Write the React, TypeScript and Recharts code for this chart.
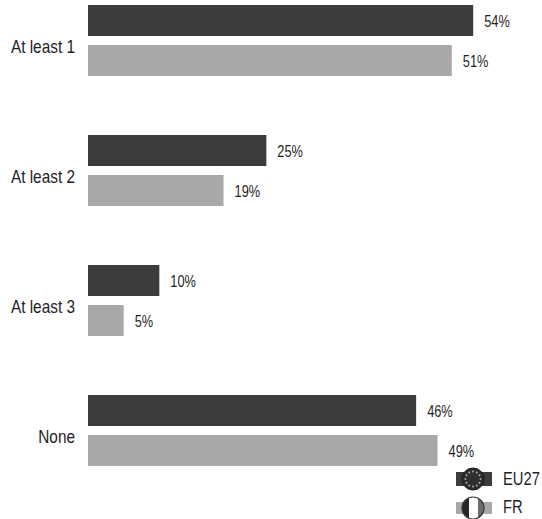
import React from 'react';
import { BarChart, XAxis, YAxis, Bar, LabelList, Legend } from 'recharts';

const categories = ['At least 1', 'At least 2', 'At least 3', 'None'];
const eu27Values = [54, 25, 10, 46];
const frValues = [51, 19, 5, 49];

const chartData = categories.map((name, i) => ({
  name,
  EU27: eu27Values[i],
  FR: frValues[i],
}));

// the reference uses a condensed Arial, no narrow font here so squeeze Liberation Sans
const FONT = '"Liberation Sans", Arial, sans-serif';
const STARS = [0, 1, 2, 3, 4, 5, 6, 7, 8, 9, 10, 11];

function CategoryTick({ x, y, payload }: any) {
  return (
    <g transform={`translate(${x},${y + 13}) scale(0.855,1)`}>
      <text textAnchor="end" fontFamily={FONT} fontSize={18} fill="#1f1f1f">
        {payload.value}
      </text>
    </g>
  );
}

function ValueLabel({ x, y, width, height, value }: any) {
  return (
    <g transform={`translate(${x + width + 11},${y + height / 2 + 6}) scale(0.8,1)`}>
      <text fontFamily={FONT} fontSize={16} fill="#1f1f1f">{`${value}%`}</text>
    </g>
  );
}

function Eu27Icon() {
  return (
    <svg width={38} height={26} style={{ display: 'block' }}>
      <rect x={1} y={5} width={36} height={14} fill="#3c3c3c" />
      <circle cx={18} cy={12} r={11} fill="#2e2e2e" stroke="#1a1a1a" />
      {STARS.map((s) => (
        <circle
          key={s}
          cx={18 + 7.5 * Math.cos((s * Math.PI) / 6)}
          cy={12 + 7.5 * Math.sin((s * Math.PI) / 6)}
          r={0.9}
          fill="#b5b5b5"
        />
      ))}
    </svg>
  );
}

function FrIcon() {
  return (
    <svg width={38} height={26} style={{ display: 'block' }}>
      <rect x={1} y={7} width={36} height={12} fill="#a8a8a8" />
      <circle cx={18} cy={13} r={11} fill="#fff" />
      <path d="M14 2.7 A11 11 0 0 0 14 23.3 Z" fill="#262626" />
      <path d="M23 3.2 A11 11 0 0 1 23 22.8 Z" fill="#6e6e6e" />
      <circle cx={18} cy={13} r={11} fill="none" stroke="#3a3a3a" strokeWidth={1.2} />
    </svg>
  );
}

function LegendContent() {
  const row = (label: string, top: number, icon: React.ReactNode) => (
    <div key={label} style={{ position: 'absolute', left: 455, top, width: 87, height: 26 }}>
      {icon}
      <span
        style={{
          position: 'absolute',
          left: 48,
          top: 1,
          fontFamily: FONT,
          fontSize: 18,
          lineHeight: '22px',
          color: '#1f1f1f',
          transform: 'scaleX(0.82)',
          transformOrigin: 'left center',
        }}
      >
        {label}
      </span>
    </div>
  );
  return (
    <div style={{ position: 'absolute', left: 0, top: 0 }}>
      {row('EU27', 467, <Eu27Icon />)}
      {row('FR', 495, <FrIcon />)}
    </div>
  );
}

export default function App() {
  return (
    <div style={{ position: 'absolute', left: 0, top: 0, width: 542, height: 519, overflow: 'hidden' }}>
      <BarChart
        width={542}
        height={519}
        data={chartData}
        layout="vertical"
        margin={{ top: -25, right: 26, bottom: 24, left: 0 }}
        barSize={31}
        barGap={9}
        barCategoryGap={30}
      >
        <XAxis type="number" domain={[0, 60]} hide />
        <YAxis
          type="category"
          dataKey="name"
          width={88}
          axisLine={false}
          tickLine={false}
          tickMargin={7}
          tick={<CategoryTick />}
        />
        <Legend content={<LegendContent />} wrapperStyle={{ position: 'absolute', left: 0, top: 0, width: 0, height: 0 }} />
        <Bar dataKey="EU27" fill="#3c3c3c" isAnimationActive={false}>
          <LabelList dataKey="EU27" content={<ValueLabel />} />
        </Bar>
        <Bar dataKey="FR" fill="#a8a8a8" isAnimationActive={false}>
          <LabelList dataKey="FR" content={<ValueLabel />} />
        </Bar>
      </BarChart>
    </div>
  );
}
